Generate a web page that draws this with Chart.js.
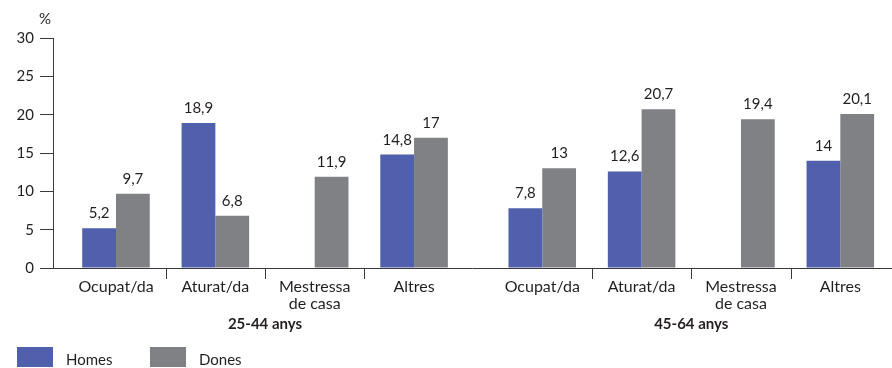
<!DOCTYPE html>
<html><head><meta charset="utf-8">
<script src="https://cdn.jsdelivr.net/npm/chart.js@4/dist/chart.umd.min.js"></script>
<style>html,body{margin:0;padding:0;background:#fff}#wrap{width:892px;height:368px;position:relative}</style>
</head><body><div id="wrap"><canvas id="c" width="892" height="368"></canvas></div>
<script>
// ---- data ----
const categories = [["Ocupat/da"], ["Aturat/da"], ["Mestressa", "de casa"], ["Altres"],
                    ["Ocupat/da"], ["Aturat/da"], ["Mestressa", "de casa"], ["Altres"]];
const categoryGroup = [0, 0, 0, 0, 1, 1, 1, 1];
const groupLabels = ["25-44 anys", "45-64 anys"];
const categoryPositions = [0, 1, 2, 3, 4.29, 5.29, 6.29, 7.29];
const homes = [5.2, 18.9, null, 14.8, 7.8, 12.6, null, 14];
const dones = [9.7, 6.8, 11.9, 17, 13, 20.7, 19.4, 20.1];
const seriesNames = ["Homes", "Dones"];
const yTicks = [0, 5, 10, 15, 20, 25, 30];
const yUnit = "%";

const BLUE = '#5060ac', GRAY = '#808184', TEXT = '#231f20', AXIS = '#3a3a3a';
const FONT = 'Lato, "Open Sans", sans-serif';

const fmt = v => String(v).replace('.', ',');

const extras = {
  id: 'extras',
  afterDatasetsDraw(chart) {
    const ctx = chart.ctx, x = chart.scales.x, area = chart.chartArea;
    ctx.save();
    // value labels
    ctx.fillStyle = TEXT;
    ctx.font = '15px ' + FONT;
    ctx.textAlign = 'center';
    ctx.textBaseline = 'alphabetic';
    chart.data.datasets.forEach((ds, di) => {
      const meta = chart.getDatasetMeta(di);
      meta.data.forEach((el, i) => {
        const v = ds.data[i].y;
        if (v === null || v === undefined) return;
        ctx.fillText(fmt(v), el.x, el.y - 10);
      });
    });
    // separators between categories of the same group
    ctx.strokeStyle = AXIS;
    ctx.lineWidth = 1;
    for (let i = 1; i < categoryPositions.length; i++) {
      if (categoryGroup[i] !== categoryGroup[i - 1]) continue;
      const px = Math.round(x.getPixelForValue((categoryPositions[i] + categoryPositions[i - 1]) / 2)) + 0.5;
      ctx.beginPath();
      ctx.moveTo(px, area.bottom);
      ctx.lineTo(px, area.bottom + 11);
      ctx.stroke();
    }
    // group labels
    ctx.font = 'bold 15px ' + FONT;
    groupLabels.forEach((g, gi) => {
      const idx = categoryGroup.map((c, i) => c === gi ? i : -1).filter(i => i >= 0);
      const cx = (x.getPixelForValue(categoryPositions[idx[0]]) + x.getPixelForValue(categoryPositions[idx[idx.length - 1]])) / 2;
      ctx.fillText(g, cx, 329);
    });
    // unit
    ctx.font = '15px ' + FONT;
    ctx.fillText(yUnit, 45, 24);
    // legend
    const colors = [BLUE, GRAY];
    const lx = [17, 150];
    ctx.font = '15px ' + FONT;
    ctx.textAlign = 'left';
    seriesNames.forEach((n, i) => {
      ctx.fillStyle = colors[i];
      ctx.fillRect(lx[i], 347, 36, 20);
      ctx.fillStyle = TEXT;
      ctx.fillText(n, lx[i] + 49, 365);
    });
    ctx.restore();
  }
};

new Chart(document.getElementById('c'), {
  type: 'bar',
  data: {
    datasets: [
      { label: seriesNames[0], data: homes.map((v, i) => ({ x: categoryPositions[i], y: v })), backgroundColor: BLUE },
      { label: seriesNames[1], data: dones.map((v, i) => ({ x: categoryPositions[i], y: v })), backgroundColor: GRAY }
    ]
  },
  options: {
    responsive: false,
    animation: false,
    events: [],
    categoryPercentage: 0.68,
    barPercentage: 1,
    layout: { padding: { top: 38, right: 1, left: 0, bottom: 0 } },
    plugins: { legend: { display: false }, tooltip: { enabled: false } },
    scales: {
      x: {
        type: 'linear',
        offset: false,
        min: -0.634,
        max: 7.8,
        afterBuildTicks: s => { s.ticks = categoryPositions.map(v => ({ value: v })); },
        afterFit: s => { s.height = 100; },
        grid: { display: true, drawOnChartArea: false, drawTicks: false },
        border: { display: true, color: AXIS, width: 1 },
        ticks: {
          autoSkip: false, maxRotation: 0, padding: 11,
          color: TEXT, font: { family: FONT, size: 16, lineHeight: 1.02 },
          callback: (v, i) => categories[i]
        }
      },
      y: {
        min: 0, max: 30,
        afterBuildTicks: s => { s.ticks = yTicks.map(v => ({ value: v })); },
        afterFit: s => { s.width = 53; },
        grid: { display: true, drawOnChartArea: false, drawTicks: true, tickLength: 13, color: AXIS },
        border: { display: true, color: AXIS, width: 1 },
        ticks: { padding: 6, color: TEXT, font: { family: FONT, size: 15 } }
      }
    }
  },
  plugins: [extras]
});
</script></body></html>
